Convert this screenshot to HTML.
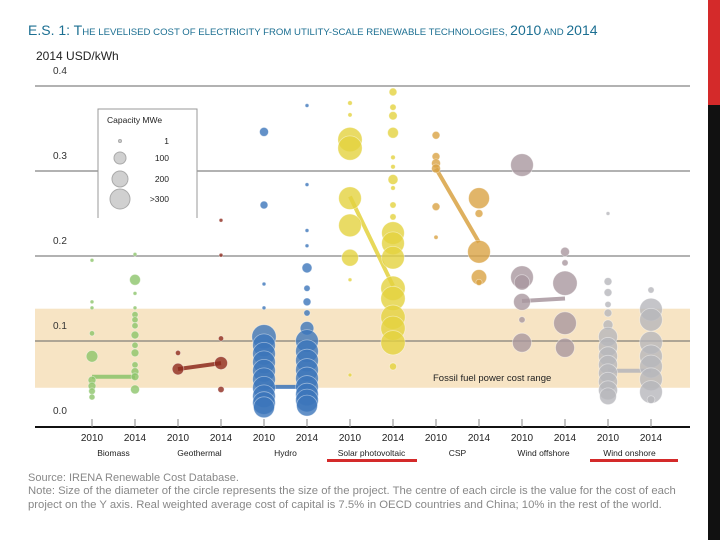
<!DOCTYPE html>
<html><head><meta charset="utf-8">
<style>
html,body{margin:0;padding:0;background:#fff;}
body{width:720px;height:540px;overflow:hidden;position:relative;font-family:"Liberation Sans",sans-serif;}
svg{position:absolute;left:0;top:0;}
</style></head>
<body>
<svg id="chart" width="720" height="540">
  <rect x="708" y="0" width="12" height="105" fill="#d42a2a"/>
  <rect x="708" y="105" width="12" height="435" fill="#111"/>
  <text x="28" y="35" fill="#1c6f92" font-size="14">E.S. 1: <tspan font-size="14">T</tspan><tspan font-size="9.6">HE LEVELISED COST OF ELECTRICITY FROM UTILITY-SCALE RENEWABLE TECHNOLOGIES, </tspan><tspan font-size="14">2010</tspan><tspan font-size="9.6"> AND </tspan><tspan font-size="14">2014</tspan></text>
  <text x="36" y="60" fill="#222" font-size="12">2014 USD/kWh</text>
  <g id="band"></g>
  <g id="grid"></g>
  <g id="legend"></g>
  <g id="marks"></g>
  <g id="xaxis"></g>
  <rect x="327" y="459" width="90" height="3" fill="#d42a2a"/>
  <rect x="590" y="459" width="88" height="3" fill="#d42a2a"/>
  <text x="28" y="481" fill="#888" font-size="11">Source: IRENA Renewable Cost Database.</text>
  <text x="28" y="494" fill="#888" font-size="11.3">Note: Size of the diameter of the circle represents the size of the project. The centre of each circle is the value for the cost of each</text>
  <text x="28" y="508" fill="#888" font-size="11.3">project on the Y axis. Real weighted average cost of capital is 7.5% in OECD countries and China; 10% in the rest of the world.</text>
</svg>
<script>
const NS="http://www.w3.org/2000/svg";
const yTicks=[0.0,0.1,0.2,0.3,0.4];
const categories=["Biomass","Geothermal","Hydro","Solar photovoltaic","CSP","Wind offshore","Wind onshore"];
const years=["2010","2014"];
const colors=["#8cc46a","#8e2b1e","#3c75ba","#e3d23e","#d9a344","#a9979f","#b6b6bb"];
const fossilRange=[0.045,0.138];
// values per series (category x year), USD/kWh
const values=[
 [0.195,0.146,0.139,0.109,0.082,0.054,0.047,0.041,0.034],
 [0.202,0.172,0.156,0.139,0.131,0.125,0.118,0.107,0.095,0.086,0.072,0.064,0.058,0.043],
 [0.086,0.067],
 [0.242,0.201,0.103,0.074,0.043],
 [0.346,0.26,0.167,0.139,0.105,0.095,0.085,0.075,0.065,0.055,0.045,0.035,0.027,0.022],
 [0.377,0.284,0.23,0.212,0.186,0.162,0.146,0.133,0.115,0.1,0.088,0.077,0.066,0.056,0.046,0.037,0.03,0.024],
 [0.38,0.366,0.337,0.327,0.268,0.236,0.198,0.172,0.06],
 [0.393,0.375,0.365,0.345,0.316,0.305,0.29,0.28,0.26,0.246,0.227,0.215,0.198,0.162,0.15,0.128,0.115,0.098,0.07],
 [0.342,0.317,0.309,0.303,0.258,0.222],
 [0.268,0.25,0.205,0.175,0.169],
 [0.307,0.175,0.169,0.146,0.125,0.098],
 [0.205,0.192,0.168,0.121,0.092],
 [0.25,0.17,0.157,0.143,0.133,0.119,0.105,0.093,0.082,0.072,0.062,0.052,0.042,0.035],
 [0.16,0.137,0.125,0.098,0.082,0.07,0.055,0.04,0.031]
];
// project capacity MWe per point
const sizes=[
 [1,1,1,5,60,20,20,12,8],
 [1,50,1,1,10,10,10,20,10,20,10,20,20,30],
 [5,60],
 [1,1,5,80,10],
 [30,20,1,1,350,300,300,300,300,300,300,300,300,250],
 [1,1,1,1,40,10,20,10,90,300,300,300,300,300,300,300,300,250],
 [3,2,400,400,300,300,150,1,1],
 [20,10,25,50,3,3,40,3,10,10,300,300,300,350,350,350,350,350,15],
 [20,20,30,30,20,2],
 [250,20,300,120,10],
 [300,300,120,150,10,200],
 [30,10,350,300,200],
 [1,20,20,10,20,40,200,200,200,200,200,200,200,150],
 [10,300,300,300,300,300,300,300,20]
];
const avgs=[[0.058,0.058],[0.067,0.074],[0.046,0.046],[0.27,0.165],[0.303,0.216],[0.147,0.15],[0.065,0.065]];
const X0=92, DX=43, Y0=426, YS=850;
const yScale=v=>Y0-v*YS;
const xScale=i=>X0+i*DX;
const rScale=c=>1.3+0.58*Math.sqrt(Math.min(c,350));
function mk(tag,attrs,parent){const e=document.createElementNS(NS,tag);for(const k in attrs)e.setAttribute(k,attrs[k]);parent.appendChild(e);return e;}
const band=document.getElementById('band');
let b=mk('rect',{x:35,y:yScale(fossilRange[1]),width:655,height:yScale(fossilRange[0])-yScale(fossilRange[1]),fill:"#f7e4c4"},band);


let bt=mk('text',{x:433,y:381,"font-size":"9.5",fill:"#222"},band);bt.textContent="Fossil fuel power cost range";


const grid=document.getElementById('grid');
yTicks.forEach(t=>{
  if(t>0){let l=mk('line',{x1:35,x2:690,y1:yScale(t),y2:yScale(t),stroke:"#666","stroke-width":1},grid);
  
  }
  let tx=mk('text',{x:53,y:yScale(t)-12,"font-size":"10",fill:"#333"},grid);tx.textContent=t.toFixed(1);
  
  
});
// legend
const lg=document.getElementById('legend');
let lb=mk('path',{d:"M98 218 V109 H197 V218",fill:"#fff",stroke:"#999"},lg);


mk('rect',{x:98.5,y:109.5,width:98,height:108,fill:"#fff"},lg);
let lt=mk('text',{x:107,y:123,"font-size":"8.5",fill:"#222"},lg);lt.textContent="Capacity MWe";


[[141,1.5,"1"],[158,6,"100"],[179,8,"200"],[199,10,">300"]].forEach(r=>{
  let c=mk('circle',{cx:120,cy:r[0],r:r[1],fill:"#d0d0d0",stroke:"#aaa"},lg);
  
  
  let t=mk('text',{x:169,y:r[0]+3,"font-size":"8.5",fill:"#222","text-anchor":"end"},lg);t.textContent=r[2];
});
// marks
const marks=document.getElementById('marks');
avgs.forEach((a,ci)=>{
  let l=mk('line',{x1:xScale(ci*2),y1:yScale(a[0]),x2:xScale(ci*2+1),y2:yScale(a[1]),stroke:colors[ci],"stroke-width":4,opacity:0.85},marks);
  
  
});
values.forEach((ser,si)=>{
  const ci=Math.floor(si/2);
  ser.forEach((v,j)=>{
    let c=mk('circle',{cx:xScale(si),cy:yScale(v),r:rScale(sizes[si][j]),fill:colors[ci],"fill-opacity":0.8,stroke:"#fff","stroke-opacity":0.45,"stroke-width":0.8},marks);
    
    
  });
});
// x axis
const xa=document.getElementById('xaxis');
let ax=mk('line',{x1:35,x2:690,y1:427,y2:427,stroke:"#111","stroke-width":2},xa);


for(let i=0;i<14;i++){
  mk('line',{x1:xScale(i),x2:xScale(i),y1:419,y2:427,stroke:"#888"},xa);
  let t=mk('text',{x:xScale(i),y:441,"font-size":"10","text-anchor":"middle",fill:"#222"},xa);t.textContent=years[i%2];
  
  
}
categories.forEach((c,ci)=>{
  let t=mk('text',{x:(xScale(ci*2)+xScale(ci*2+1))/2,y:456,"font-size":"8.5","text-anchor":"middle",fill:"#222"},xa);t.textContent=c;
  
  
});
</script>
</body></html>
